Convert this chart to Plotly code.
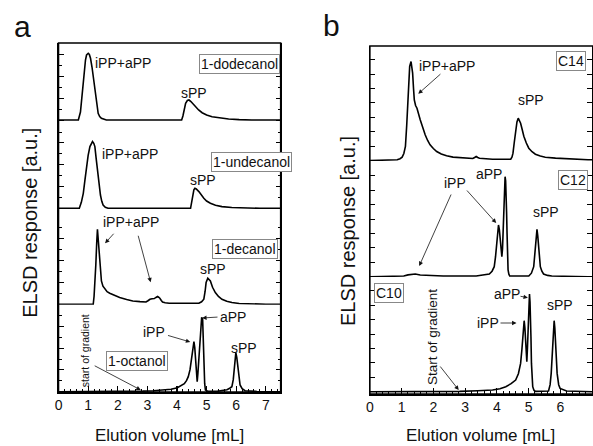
import plotly.graph_objects as go

# ---------------- data (elution volume in mL, ELSD response in a.u.) ----------------
dodecanol = [(0,0),(0.60,0),(0.669,0),(0.74,8),(0.779,20),(0.83,38),(0.870,53),(0.91,60),(0.946,65),(1.003,66.7),
             (1.040,65.5),(1.080,61.7),(1.13,53),(1.171,43),(1.22,31),(1.261,20),(1.30,12),(1.338,6.7),(1.39,3.5),
             (1.448,1.7),(1.615,0),(4.10,0),(4.157,0),(4.20,4),(4.237,8.3),(4.291,16.7),(4.35,19.5),(4.405,20),
             (4.47,18.5),(4.53,16.5),(4.625,13.3),(4.73,10),(4.849,7.3),(5.00,5),(5.184,3.3),(5.45,2),(5.742,1),
             (6.10,0.4),(6.522,0),(7.5,0)]
undecanol = [(0,0),(0.65,0),(0.702,0),(0.77,6),(0.836,15),(0.89,28),(0.946,41.7),(1.00,53),(1.060,61.7),(1.10,65),
             (1.147,66.7),(1.19,65),(1.227,61.7),(1.27,50),(1.314,38.3),(1.36,25),(1.415,13.3),(1.46,7),(1.505,3.3),
             (1.58,1),(1.672,0),(4.40,0),(4.458,0),(4.50,7),(4.538,14),(4.57,18.5),(4.605,20),(4.65,19.3),(4.739,16.7),
             (4.82,13),(4.906,10),(5.00,7.3),(5.127,5),(5.30,3),(5.518,1.7),(5.85,0.8),(6.187,0.3),(6.8,0),(7.5,0)]
decanol = [(0,0),(1.12,0),(1.171,0),(1.20,8),(1.227,18.3),(1.26,40),(1.29,62),(1.314,75),(1.34,65),(1.37,52),
           (1.395,41.7),(1.42,31),(1.448,23.3),(1.50,18),(1.562,15),(1.64,12.5),(1.729,11),(1.90,8.5),(2.064,6.7),
           (2.30,4.8),(2.508,3.3),(2.75,2.6),(2.953,2.3),(3.02,3.5),(3.087,5),(3.16,5.5),(3.234,5.7),(3.29,6.8),
           (3.344,7.7),(3.38,7),(3.421,6),(3.47,3.8),(3.512,2.3),(3.60,1.5),(3.736,1),(4.50,1),(4.739,1),(4.83,2.5),
           (4.906,5),(4.95,13),(4.983,21.7),(5.040,26),(5.08,25),(5.127,23.3),(5.20,17),(5.294,11.7),(5.40,7.8),
           (5.518,5),(5.68,3),(5.853,1.7),(6.10,0.8),(6.411,0.3),(7.0,0),(7.5,0)]
octanol = [(0,0),(2.3,0),(2.508,0.3),(2.843,0.6),(3.2,1),(3.512,1.5),(3.8,2.5),(4.013,4),(4.15,6),(4.247,8),(4.32,11),
           (4.381,15),(4.44,22),(4.482,30),(4.53,42),(4.572,50),(4.60,44),(4.625,35),(4.655,20),(4.682,10),(4.705,18),
           (4.732,30),(4.765,48),(4.793,62),(4.815,72),(4.833,74.5),(4.866,72),(4.886,55),(4.906,25),(4.935,8),
           (4.960,1.7),(5.050,0.3),(5.351,0.3),(5.55,0.9),(5.686,2),(5.78,3.5),(5.853,5),(5.90,12),(5.943,25),
           (5.965,33),(5.987,39),(6.02,34),(6.054,25),(6.09,14),(6.130,6.7),(6.20,3),(6.298,1),(6.689,0.3),(7.5,0)]

c14 = [(0,0),(0.70,0.3),(0.862,0.7),(0.95,1.8),(1.017,3.3),(1.07,7),(1.120,14),(1.16,35),(1.191,57.3),(1.225,80),
       (1.254,94),(1.297,99),(1.347,87.3),(1.375,72),(1.400,60.7),(1.44,55),(1.484,52.3),(1.586,40.7),(1.66,33),
       (1.742,25.7),(1.82,20),(1.897,15.7),(2.0,12),(2.106,9),(2.25,6.5),(2.417,4.7),(2.62,3.4),(2.830,2.7),
       (3.05,2.2),(3.244,2),(3.30,3),(3.350,4),(3.40,3),(3.453,2.3),(3.866,1.3),(4.439,1.3),(4.48,3.5),(4.510,7.3),
       (4.55,18),(4.594,30.7),(4.635,38.5),(4.675,42.3),(4.710,40.5),(4.750,37.3),(4.80,31),(4.852,24.3),
       (4.93,17.5),(5.008,12.3),(5.11,8.8),(5.216,6.3),(5.37,4.5),(5.527,3.3),(5.85,2.4),(6.149,1.7),(6.874,0.7),
       (7.0,0.7)]
c12 = [(0,0),(0.7,0.3),(1.067,0.7),(1.20,1.8),(1.328,2.7),(1.431,2.7),(1.586,1.7),(1.9,1.1),(2.311,0.7),(3.350,0.7),
       (3.60,1.5),(3.764,2.7),(3.85,5.5),(3.919,10),(3.96,20),(3.991,33.3),(4.025,46),(4.053,51.7),(4.08,47),
       (4.106,38.3),(4.135,26),(4.159,20),(4.18,28),(4.199,43.3),(4.220,65),(4.240,86.7),(4.261,100),(4.278,96),
       (4.292,86.7),(4.308,65),(4.323,43.3),(4.34,20),(4.355,6.7),(4.38,2.5),(4.407,0.7),(5.008,0.7),(5.09,3.5),
       (5.163,10),(5.19,19),(5.216,30),(5.24,40),(5.266,47.3),(5.29,41),(5.319,30),(5.345,19),(5.372,10),
       (5.42,5.5),(5.474,2.7),(5.60,1.3),(5.733,0.7),(6.874,0),(7.0,0)]
c10 = [(0,0),(2.0,0),(2.830,0.3),(3.4,0.9),(3.866,1.7),(4.1,3),(4.283,5),(4.45,8),(4.594,11.7),(4.68,18),(4.750,28.3),
       (4.79,42),(4.821,58.3),(4.842,66),(4.862,71),(4.885,64),(4.905,55),(4.926,42),(4.946,30),(4.966,44),
       (4.986,61.7),(5.008,82),(5.030,97.7),(5.046,90),(5.061,78.3),(5.076,55),(5.092,28.3),(5.11,14),(5.132,5),
       (5.17,1.5),(5.216,0.3),(5.630,0.7),(5.68,7),(5.714,18.3),(5.74,34),(5.764,51.7),(5.785,64),(5.807,71),
       (5.828,64),(5.848,51.7),(5.875,34),(5.901,18.3),(5.95,7),(5.994,3.3),(6.199,0.7),(6.874,0),(7.0,0)]

left_labels = ["1-dodecanol", "1-undecanol", "1-decanol", "1-octanol"]
right_labels = ["C14", "C12", "C10"]
x_ticks_left = [0, 1, 2, 3, 4, 5, 6, 7]
x_ticks_right = [0, 1, 2, 3, 4, 5, 6, 7]

# ---------------- layout helpers ----------------
W, H = 593, 446
def fx(p): return p / W
def fy(p): return 1 - p / H

FONT = "Liberation Sans, Arial, sans-serif"
fig = go.Figure()

# (trace, top px, bottom px, y-range)
left_panels = [(dodecanol, 43, 130.25, [-10.25, 77]),
               (undecanol, 130.25, 217.5, [-9.2, 78.05]),
               (decanol, 217.5, 304.75, [-0.5, 86.75]),
               (octanol, 304.75, 392, [-0.3, 86.95])]
right_panels = [(c14, 46, 161, [-0.5, 114.5]),
                (c12, 161, 277, [-0.3, 115.7]),
                (c10, 277, 394, [-2.3, 114.7])]

layout = dict(width=W, height=H, margin=dict(l=0, r=0, t=0, b=0),
              paper_bgcolor="white", plot_bgcolor="white", showlegend=False,
              font=dict(family=FONT, color="#111"))

def add_panel(panels, start, xdom, xrange, ticks, ydt, minor):
    n = len(panels)
    bottom_id = start + n - 1
    for k, (data, top, bot, yr) in enumerate(panels):
        i = start + k
        xs = [p[0] for p in data]
        ys = [p[1] for p in data]
        fig.add_trace(go.Scatter(x=xs, y=ys, mode="lines", xaxis=f"x{i}", yaxis=f"y{i}",
                                 line=dict(color="black", width=1.6), hoverinfo="skip"))
        is_bottom = (i == bottom_id)
        xa = dict(domain=xdom, range=xrange, anchor=f"y{i}", showgrid=False, zeroline=False)
        if is_bottom:
            xa.update(showline=True, linecolor="black", linewidth=1.5, ticks="inside", ticklen=6,
                      tickwidth=1.1, tickcolor="black", tickmode="array", tickvals=ticks,
                      tickfont=dict(size=14, family=FONT, color="#111"),
                      minor=dict(ticks="inside", ticklen=3, tickwidth=1, dtick=0.2, tick0=0,
                                 tickcolor="black"))
        else:
            xa.update(showline=False, ticks="", showticklabels=False, matches=f"x{bottom_id}")
        ya = dict(domain=[fy(bot), fy(top)], range=yr, anchor=f"x{i}", showgrid=False, zeroline=False,
                  showline=True, linecolor="black", linewidth=1.2, mirror="ticks", ticks="inside",
                  ticklen=5, tickwidth=1, tickcolor="black", showticklabels=False,
                  tickmode="linear", tick0=0, dtick=ydt)
        if minor:
            ya["minor"] = dict(ticks="inside", ticklen=3, tickwidth=1, dtick=ydt / 2, tick0=0,
                               tickcolor="black")
        layout[f"xaxis{'' if i == 1 else i}"] = xa
        layout[f"yaxis{'' if i == 1 else i}"] = ya

add_panel(left_panels, 1, [fx(55), fx(279)], [0, 7.5], x_ticks_left, 21.8, True)
add_panel(right_panels, 5, [fx(369), 1.0], [0, 7.0], x_ticks_right, 14.4, False)

fig.update_layout(**layout)

# frames
fig.add_shape(type="rect", xref="paper", yref="paper", x0=fx(55), x1=fx(279), y0=fy(392), y1=fy(43),
              line=dict(color="black", width=1.5))
fig.add_shape(type="rect", xref="paper", yref="paper", x0=fx(369), x1=fx(595), y0=fy(394), y1=fy(46),
              line=dict(color="black", width=1.5))

def text(i, x, y, s, size=14, **kw):
    fig.add_annotation(xref=f"x{i}", yref=f"y{i}", x=x, y=y, text=s, showarrow=False,
                       font=dict(size=size, family=FONT, color="#111"), **kw)

def box(i, x, y, s, size=14):
    text(i, x, y, s, size=size, bgcolor="white", bordercolor="#888", borderwidth=1, borderpad=1)

def arrow(i, x0, y0, x1, y1):
    fig.add_annotation(xref=f"x{i}", yref=f"y{i}", axref=f"x{i}", ayref=f"y{i}",
                       x=x1, y=y1, ax=x0, ay=y0, text="", showarrow=True,
                       arrowhead=2, arrowsize=1.1, arrowwidth=0.8, arrowcolor="#111", standoff=0)

# left panel annotations
text(1, 2.19, 57, "iPP+aPP"); text(1, 4.58, 27, "sPP"); box(1, 6.12, 56, left_labels[0])
text(2, 2.42, 54.3, "iPP+aPP"); text(2, 4.87, 28.3, "sPP"); box(2, 6.52, 46.3, left_labels[1])
text(3, 2.44, 82, "iPP+aPP"); text(3, 5.22, 35, "sPP"); box(3, 6.30, 55.5, left_labels[2])
arrow(3, 1.906, 72, 1.572, 61); arrow(3, 2.676, 70, 3.110, 22)
text(4, 3.23, 59.7, "iPP"); arrow(4, 3.645, 56.7, 4.448, 49.7)
text(4, 5.90, 74.7, "aPP"); arrow(4, 5.418, 74.7, 4.85, 73.7)
text(4, 6.27, 43.7, "sPP"); box(4, 2.64, 30.7, left_labels[3])
text(4, 0.90, 40.7, "start of gradient", size=10.5, textangle=-90)
arrow(4, 1.171, 26.7, 2.776, 1.7)

# right panel annotations
text(5, 2.43, 94.7, "iPP+aPP"); arrow(5, 2.27, 87.7, 1.524, 66.7)
text(5, 5.07, 60.7, "sPP"); box(5, 6.33, 99.2, right_labels[0])
text(6, 3.76, 102.7, "aPP"); text(6, 2.69, 93.7, "iPP")
arrow(6, 2.58, 83.7, 1.555, 10.7); arrow(6, 3.017, 87.7, 3.98, 53.7)
text(6, 5.54, 64.7, "sPP"); box(6, 6.41, 97.2, right_labels[1])
text(7, 4.32, 97.7, "aPP"); arrow(7, 4.70, 95.7, 4.98, 94)
text(7, 3.72, 68.7, "iPP"); arrow(7, 4.07, 68.7, 4.62, 68.7)
text(7, 5.99, 86.7, "sPP"); box(7, 0.61, 99.2, right_labels[2])
text(7, 1.96, 54.7, "Start of gradient", size=13.5, textangle=-90)
arrow(7, 2.18, 26.7, 2.80, 1.7)

# panel letters & axis titles
def ptext(x, y, s, size, angle=0):
    fig.add_annotation(xref="paper", yref="paper", x=fx(x), y=fy(y), text=s, showarrow=False,
                       textangle=angle, font=dict(size=size, family=FONT, color="#111"),
                       xanchor="center", yanchor="middle")

ptext(19, 27, "a", 30)
ptext(330, 25, "b", 30)
ptext(26, 223, "ELSD response [a.u.]", 20, -90)
ptext(347, 231, "ELSD response [a.u.]", 20, -90)
ptext(167, 435, "Elution volume [mL]", 17)
ptext(481, 435, "Elution volume [mL]", 17)

fig.write_html("out.html", config={"displayModeBar": False, "staticPlot": True},
               post_script="document.body.style.margin='0';document.body.style.overflow='hidden';")
